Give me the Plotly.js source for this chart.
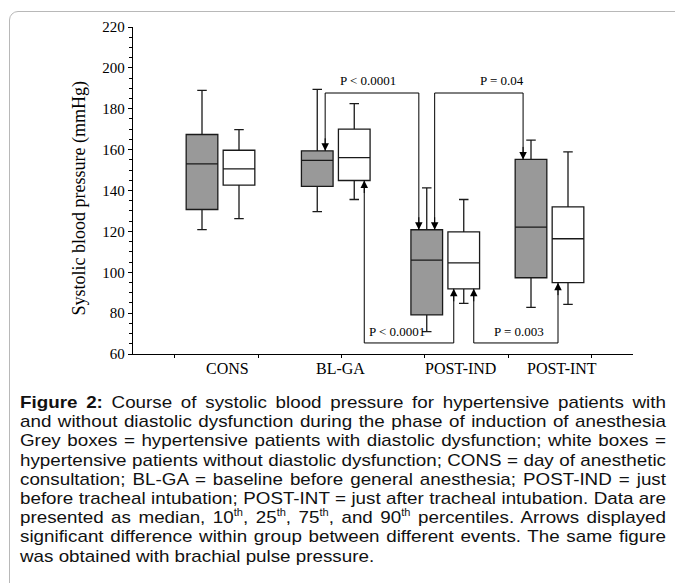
<!DOCTYPE html>
<html><head><meta charset="utf-8">
<script src="https://cdn.plot.ly/plotly-3.0.1.min.js"></script>
<style>
html,body{margin:0;padding:0;background:#fff;}
#page{position:relative;width:675px;height:583px;overflow:hidden;background:#fff;}
#frame{position:absolute;left:9px;top:11px;width:720px;height:640px;border:1.5px solid #b8b8b8;border-radius:9px;box-sizing:border-box;}
#chart{position:absolute;left:0;top:0;width:675px;height:390px;}
#caption{position:absolute;left:20px;top:393px;width:1000px;transform-origin:0 0;
  font-family:"Liberation Sans",Arial,sans-serif;font-size:17px;line-height:19.2px;color:#111;}
#caption .l{white-space:nowrap;text-align:left;}
#caption.j .l{text-align:justify;text-align-last:justify;}
#caption.j .last{text-align-last:left;}
#caption sup{font-size:10px;line-height:0;}
</style></head><body>
<div id="page">
<div id="frame"></div>
<div id="chart"></div>
<div id="caption">
<div class="l"><span><b>Figure 2:</b> Course of systolic blood pressure for hypertensive patients with</span></div>
<div class="l"><span>and without diastolic dysfunction during the phase of induction of anesthesia</span></div>
<div class="l"><span>Grey boxes = hypertensive patients with diastolic dysfunction; white boxes =</span></div>
<div class="l"><span>hypertensive patients without diastolic dysfunction; CONS = day of anesthetic</span></div>
<div class="l"><span>consultation; BL-GA = baseline before general anesthesia; POST-IND = just</span></div>
<div class="l"><span>before tracheal intubation; POST-INT = just after tracheal intubation. Data are</span></div>
<div class="l"><span>presented as median, 10<sup>th</sup>, 25<sup>th</sup>, 75<sup>th</sup>, and 90<sup>th</sup> percentiles. Arrows displayed</span></div>
<div class="l"><span>significant difference within group between different events. The same figure</span></div>
<div class="l last"><span>was obtained with brachial pulse pressure.</span></div>
</div>
</div>
<script>
// ---- data (mmHg) ----
const categories = ['CONS', 'BL-GA', 'POST-IND', 'POST-INT'];
// grey boxes: hypertensive patients with diastolic dysfunction
const greyP10    = [120.9, 129.7, 70.9, 82.8];
const greyP25    = [130.7, 142.0, 79.1, 97.3];
const greyMedian = [153.0, 154.7, 105.9, 122.1];
const greyP75    = [167.4, 159.4, 120.8, 155.2];
const greyP90    = [189.0, 189.5, 141.3, 164.6];
// white boxes: hypertensive patients without diastolic dysfunction
const whiteP10    = [126.2, 135.6, 84.8, 84.3];
const whiteP25    = [142.6, 144.9, 91.9, 94.9];
const whiteMedian = [150.6, 156.1, 104.6, 116.4];
const whiteP75    = [159.7, 170.0, 119.8, 132.0];
const whiteP90    = [169.8, 182.5, 135.6, 158.9];
const yTickValues = [60, 80, 100, 120, 140, 160, 180, 200, 220];
// significance brackets: group index from -> to, box set, label
const compFrom   = [1, 2, 1, 2];
const compTo     = [2, 3, 2, 3];
const compGroup  = ['grey', 'grey', 'white', 'white'];
const compLabels = ['P < 0.0001', 'P = 0.04', 'P < 0.0001', 'P = 0.003'];
const yTitle = 'Systolic blood pressure (mmHg)';

// ---- caption fitting: the tightest line fills the text width ----
(function () {
  const cap = document.getElementById('caption');
  const target = 646;
  let maxW = 0;
  cap.querySelectorAll('.l:not(.last) span').forEach(s => { maxW = Math.max(maxW, s.getBoundingClientRect().width); });
  const s = Math.min(1.15, Math.max(0.8, (target - 2) / maxW));
  cap.style.width = (target / s) + 'px';
  cap.style.transform = 'scaleX(' + s + ')';
  cap.classList.add('j');
})();

// ---- layout constants ----
const groupCenters = [1.05, 2.433, 3.747, 4.998];
const labelCenters = [1.13, 2.49, 3.93, 5.15];
const pairOffset = 0.222;
const boxWidth = 0.38;
const topLevel = 187.7, bottomLevel = 65.4;
const topLabelY = 193.6, bottomLabelY = 70.8;
const pLabelX = [2.82, 4.43, 3.17, 4.63];
const serif = '"Liberation Serif","Times New Roman",serif';

const greyX = groupCenters.map(c => c - pairOffset);
const whiteX = groupCenters.map(c => c + pairOffset);

const boxCommon = {type: 'box', orientation: 'v', width: boxWidth, whiskerwidth: 0.3,
  boxpoints: false, hoverinfo: 'skip', showlegend: false};
const traces = [
  Object.assign({}, boxCommon, {x: greyX, q1: greyP25, median: greyMedian, q3: greyP75,
    lowerfence: greyP10, upperfence: greyP90, fillcolor: '#999999', line: {color: '#1a1a1a', width: 1.3}}),
  Object.assign({}, boxCommon, {x: whiteX, q1: whiteP25, median: whiteMedian, q3: whiteP75,
    lowerfence: whiteP10, upperfence: whiteP90, fillcolor: '#ffffff', line: {color: '#1a1a1a', width: 1.3}})
];

const shapes = [];
const annotations = [];
for (let i = 0; i < compLabels.length; i++) {
  const isGrey = compGroup[i] === 'grey';
  const xs = isGrey ? greyX : whiteX;
  const d = isGrey ? 0.095 : 0.12;
  const x1 = xs[compFrom[i]] + d, x2 = xs[compTo[i]] - d;
  const t1 = isGrey ? greyP75[compFrom[i]] : whiteP25[compFrom[i]];
  const t2 = isGrey ? greyP75[compTo[i]] : whiteP25[compTo[i]];
  const lvl = isGrey ? topLevel : bottomLevel;
  shapes.push({type: 'path', xref: 'x', yref: 'y',
    path: `M ${x1},${t1} L ${x1},${lvl} L ${x2},${lvl} L ${x2},${t2}`,
    line: {color: '#000', width: 1}});
  [[x1, t1], [x2, t2]].forEach(([ax, ty]) => {
    annotations.push({x: ax, y: ty, xref: 'x', yref: 'y', text: '', showarrow: true,
      ax: 0, ay: isGrey ? -14 : 14, arrowhead: 2, arrowsize: 1.5, arrowwidth: 1, arrowcolor: '#000'});
  });
  annotations.push({x: pLabelX[i], y: isGrey ? topLabelY : bottomLabelY, xref: 'x', yref: 'y',
    text: compLabels[i], showarrow: false, font: {family: serif, size: 13, color: '#000'}});
}
categories.forEach((c, i) => {
  annotations.push({x: labelCenters[i], y: 0, xref: 'x', yref: 'paper', yanchor: 'top', yshift: -4,
    text: c, showarrow: false, font: {family: serif, size: 16, color: '#000'}});
});
// y-axis title (placed as rotated text so it can sit slightly low, as in the original)
annotations.push({x: 0, y: 0.5, xref: 'paper', yref: 'paper', xanchor: 'center', yanchor: 'middle',
  xshift: -54, yshift: -8, textangle: -90, text: yTitle, showarrow: false,
  font: {family: serif, size: 18, color: '#000'}});

const layout = {
  width: 675, height: 390,
  margin: {l: 133, r: 42, t: 27, b: 36},
  paper_bgcolor: 'rgba(0,0,0,0)', plot_bgcolor: 'rgba(0,0,0,0)',
  showlegend: false,
  xaxis: {range: [0, 6], tickvals: [0.5, 1.5, 2.5, 3.5, 4.5, 5.5], showticklabels: false,
    ticks: 'outside', ticklen: 3, tickcolor: '#000', showline: true, linecolor: '#000', linewidth: 1.2,
    showgrid: false, zeroline: false, fixedrange: true},
  yaxis: {range: [60, 220], tickvals: yTickValues, ticks: 'outside', ticklen: 4, tickcolor: '#000',
    minor: {dtick: 5, ticks: 'outside', ticklen: 3, tickcolor: '#000', showgrid: false},
    showline: true, linecolor: '#000', linewidth: 1.2, showgrid: false, zeroline: false,
    tickfont: {family: serif, size: 15, color: '#000'}},
  shapes: shapes,
  annotations: annotations
};
Plotly.newPlot('chart', traces, layout, {displayModeBar: false, staticPlot: true});
</script>
</body></html>
